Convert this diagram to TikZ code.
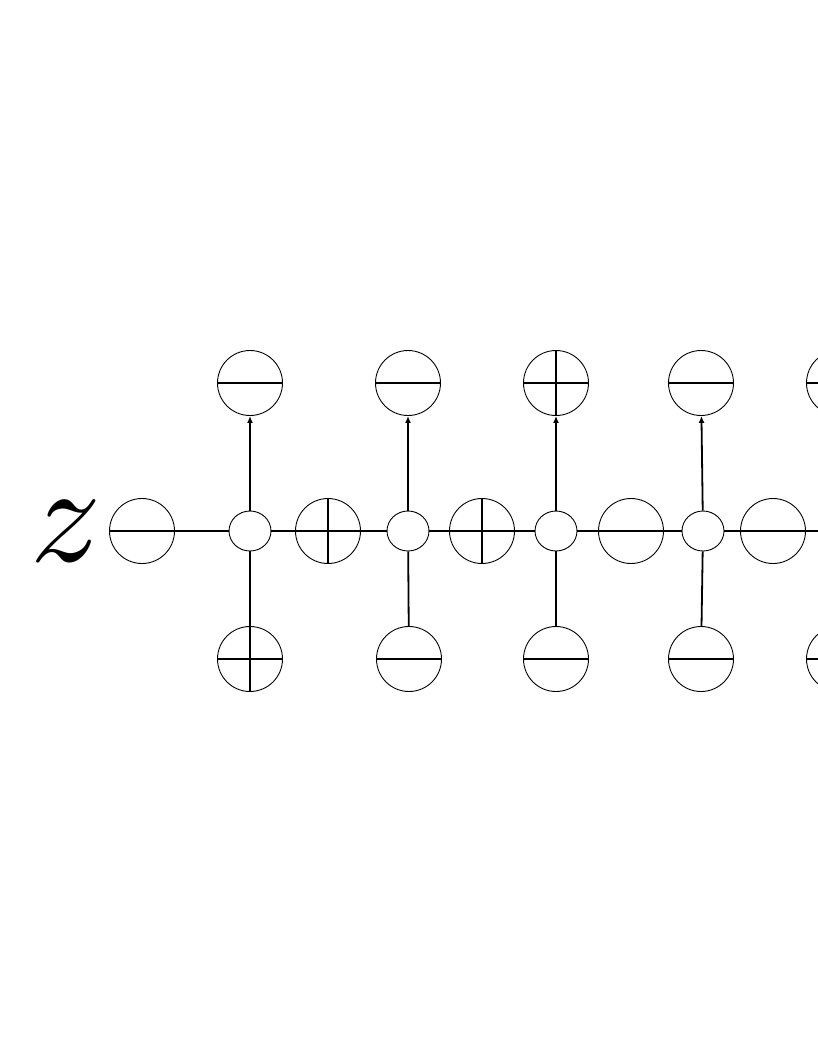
\documentclass[tikz,border=0pt]{standalone}
\usepackage{amsmath}
\usepackage{amssymb}
\usetikzlibrary{shapes.geometric,arrows.meta}

\begin{document}
\begin{tikzpicture}[
	x=1pt, y=-1pt,
	site/.style={circle, draw, line width=0.9pt, minimum size=65pt, inner sep=0pt},
	minussite/.style={site, path picture={\draw[line width=1.8pt] (path picture bounding box.west) -- (path picture bounding box.east);}},
	plussite/.style={site, path picture={\draw[line width=1.8pt] (path picture bounding box.west) -- (path picture bounding box.east) (path picture bounding box.north) -- (path picture bounding box.south);}},
	junc/.style={ellipse, draw, line width=0.9pt, minimum width=42pt, minimum height=40pt, inner sep=0pt},
	bond/.style={line width=1.8pt},
	upbond/.style={bond, -{Latex[length=7pt,width=6pt]}},
	]
	\useasboundingbox (0,0) rectangle (817,1058);
	\node [scale=14, inner sep=0pt] (zlabel) at (66,531) {$z$};
	% main chain
	\node [minussite] (m0) at (142,531) {};
	\node [junc] (j1) at (250,531) {};
	\node [plussite] (m1) at (328,531) {};
	\node [junc] (j2) at (408,531) {};
	\node [plussite] (m2) at (482,531) {};
	\node [junc] (j3) at (556,531) {};
	\node [minussite] (m3) at (631,531) {};
	\node [junc] (j4) at (703,531) {};
	\node [minussite] (m4) at (773,531) {};
	\node [junc] (j5) at (840,531) {};
	% upper row
	\node [minussite] (t1) at (250,383) {};
	\node [minussite] (t2) at (408,383) {};
	\node [plussite] (t3) at (556,383) {};
	\node [minussite] (t4) at (701,383) {};
	\node [minussite] (t5) at (839,383) {};
	% lower row
	\node [plussite] (b1) at (250,659) {};
	\node [minussite] (b2) at (409,659) {};
	\node [minussite] (b3) at (556,659) {};
	\node [minussite] (b4) at (701,659) {};
	\node [minussite] (b5) at (839,659) {};

	\draw [bond] (m0) -- (j1) -- (m1) -- (j2) -- (m2) -- (j3) -- (m3) -- (j4) -- (m4) -- (j5);
	\draw [upbond] (j1) -- (t1);
	\draw [upbond] (j2) -- (t2);
	\draw [upbond] (j3) -- (t3);
	\draw [upbond] (j4) -- (t4);
	\draw [upbond] (j5) -- (t5);
	\draw [bond] (j1) -- (b1);
	\draw [bond] (j2) -- (b2);
	\draw [bond] (j3) -- (b3);
	\draw [bond] (j4) -- (b4);
	\draw [bond] (j5) -- (b5);
\end{tikzpicture}
\end{document}
